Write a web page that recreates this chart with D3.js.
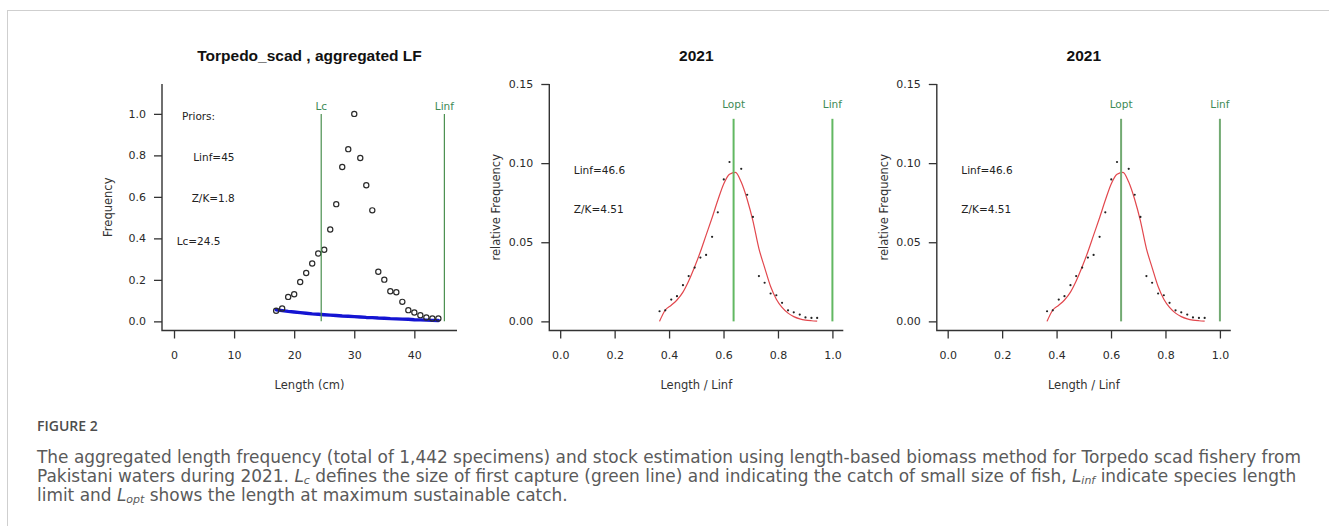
<!DOCTYPE html>
<html>
<head>
<meta charset="utf-8">
<script src="https://cdn.jsdelivr.net/npm/d3@7"></script>
<style>
  html, body { margin: 0; padding: 0; background: #fff; }
  svg { display: block; }
</style>
</head>
<body>
<svg id="fig" width="1329" height="526"></svg>
<script>
// ---- Data ---------------------------------------------------------------
// Length classes (cm) of the aggregated sample
const lengthCm = [17,18,19,20,21,22,23,24,25,26,27,28,29,30,31,32,33,34,35,36,37,38,39,40,41,42,43,44];
// Frequency scaled to the modal class
const freqScaled = [0.051,0.062,0.118,0.131,0.190,0.233,0.279,0.327,0.345,0.443,0.565,0.744,0.830,1.000,
                    0.787,0.656,0.535,0.239,0.201,0.145,0.140,0.094,0.054,0.043,0.030,0.019,0.014,0.014];
// Blue reference curve under the catch
const blueCurve = [0.056,0.052,0.048,0.045,0.042,0.039,0.036,0.034,0.032,0.030,0.028,0.026,0.025,0.023,
                   0.021,0.019,0.018,0.016,0.015,0.013,0.012,0.011,0.010,0.008,0.007,0.006,0.005,0.004];
// Length relative to Linf (46.6 cm)
const relLength = [0.365,0.386,0.408,0.429,0.451,0.472,0.494,0.515,0.536,0.558,0.579,0.601,0.622,0.644,
                   0.665,0.687,0.708,0.730,0.751,0.773,0.794,0.815,0.837,0.858,0.880,0.901,0.923,0.944];
// Observed relative frequency (class at 0.644 sits under the Lopt line)
const relFreq = [0.0064,0.0070,0.0138,0.0159,0.0229,0.0286,0.0340,0.0403,0.0420,0.0534,0.0689,0.0897,0.1007,null,
                 0.0964,0.0800,0.0660,0.0286,0.0244,0.0176,0.0165,0.0117,0.0070,0.0057,0.0043,0.0025,0.0022,0.0022];
// Fitted LBB curve
const fittedFreq = [0.0000,0.0072,0.0102,0.0135,0.0185,0.0255,0.0345,0.0440,0.0545,0.0655,0.0765,0.0870,0.0930,0.0942,
                    0.0880,0.0770,0.0635,0.0460,0.0340,0.0220,0.0140,0.0088,0.0052,0.0030,0.0016,0.0008,0.0004,0.0002];

// Reference points
const LcPrior = 24.5, LinfPrior = 45;
const LoptRel = 0.637, LinfRel = 1.0;

// Ticks
const xTicksLF = [0, 10, 20, 30, 40];
const yTicksLF = [0.0, 0.2, 0.4, 0.6, 0.8, 1.0];
const xTicksRel = [0.0, 0.2, 0.4, 0.6, 0.8, 1.0];
const yTicksRel = [0.00, 0.05, 0.10, 0.15];

// Text
const priorsText = ["Priors:", "Linf=45", "Z/K=1.8", "Lc=24.5"];
const fitText = ["Linf=46.6", "Z/K=4.51"];

// ---- Layout -------------------------------------------------------------
const svg = d3.select("#fig");
const boxTop = 84, boxBottom = 330.5, boxW = 294;
const panelLeft = [162, 549.3, 936.8];
const tickFont = "'DejaVu Sans', sans-serif";
const axisColor = "#333";

// figure frame
svg.append("rect")
  .attr("x", 7.5).attr("y", 10.5).attr("width", 1400).attr("height", 600)
  .attr("fill", "none").attr("stroke", "#cfcfcf").attr("stroke-width", 1);

function drawFrame(g, x, y, xTicks, yTicks, xFmt, yFmt, title, xTitle, yTitle, yTitleX) {
  const x0 = x.range()[0], x1 = x.range()[1];
  // L-shaped box
  g.append("path")
    .attr("d", `M${x0},${boxTop} V${boxBottom} H${x1}`)
    .attr("fill", "none").attr("stroke", axisColor).attr("stroke-width", 1.4);

  const ya = g.append("g").attr("transform", `translate(${x0},0)`)
    .call(d3.axisLeft(y).tickValues(yTicks).tickSize(8).tickPadding(8).tickFormat(yFmt));
  const xa = g.append("g").attr("transform", `translate(0,${boxBottom})`)
    .call(d3.axisBottom(x).tickValues(xTicks).tickSize(8).tickPadding(12.5).tickFormat(xFmt));
  [ya, xa].forEach(a => {
    a.select(".domain").remove();
    a.selectAll("line").attr("stroke", axisColor).attr("stroke-width", 1.3);
    a.selectAll("text").attr("fill", "#2a2a2a").style("font-family", tickFont).style("font-size", "11px");
  });

  const cx = (x0 + x1) / 2;
  g.append("text").attr("x", cx).attr("y", 60.5)
    .attr("text-anchor", "middle").attr("fill", "#111")
    .style("font-family", "'Liberation Sans', Arial, sans-serif")
    .style("font-weight", "bold").style("font-size", "15.5px")
    .text(title);
  g.append("text").attr("x", cx).attr("y", 389)
    .attr("text-anchor", "middle").attr("fill", "#333")
    .style("font-family", tickFont).style("font-size", "11.5px")
    .text(xTitle);
  g.append("text")
    .attr("transform", `translate(${yTitleX},${(boxTop + boxBottom) / 2}) rotate(-90)`)
    .attr("text-anchor", "middle").attr("fill", "#333")
    .style("font-family", tickFont).style("font-size", "11.5px")
    .text(yTitle);
}

function refLine(g, x, y, xv, yTop, label, color, width, labelGap) {
  g.append("line")
    .attr("x1", x(xv)).attr("x2", x(xv)).attr("y1", y(0)).attr("y2", y(yTop))
    .attr("stroke", color).attr("stroke-width", width);
  g.append("text")
    .attr("x", x(xv)).attr("y", y(yTop) - labelGap)
    .attr("text-anchor", "middle").attr("fill", "#3d8a55")
    .style("font-family", tickFont).style("font-size", "10.5px")
    .text(label);
}

function annot(g, x, y, xv, yv, txt) {
  g.append("text")
    .attr("x", x(xv)).attr("y", y(yv)).attr("dy", "0.36em")
    .attr("fill", "#222")
    .style("font-family", tickFont).style("font-size", "10.5px")
    .text(txt);
}

// ---- Panel 1: aggregated length frequency -------------------------------
{
  const g = svg.append("g");
  const x = d3.scaleLinear().domain([-2, 47.1]).range([panelLeft[0], panelLeft[0] + 295]);
  const y = d3.scaleLinear().domain([-0.044, 1.144]).range([boxBottom, boxTop]);
  drawFrame(g, x, y, xTicksLF, yTicksLF, d3.format("d"), d3.format(".1f"),
    "Torpedo_scad , aggregated LF", "Length (cm)", "Frequency", 112);

  annot(g, x, y, 1.33, 0.99, priorsText[0]);
  annot(g, x, y, 3.2, 0.79, priorsText[1]);
  annot(g, x, y, 2.94, 0.593, priorsText[2]);
  annot(g, x, y, 0.44, 0.385, priorsText[3]);

  g.append("path")
    .datum(lengthCm.map((l, i) => [l, blueCurve[i]]))
    .attr("d", d3.line().x(d => x(d[0])).y(d => y(d[1])))
    .attr("fill", "none").attr("stroke", "#1414d2").attr("stroke-width", 3.4)
    .attr("stroke-linejoin", "round").attr("stroke-linecap", "round");

  g.selectAll("circle.lf")
    .data(lengthCm.map((l, i) => [l, freqScaled[i]]))
    .join("circle").attr("class", "lf")
    .attr("cx", d => x(d[0])).attr("cy", d => y(d[1])).attr("r", 2.6)
    .attr("fill", "none").attr("stroke", "#2a2a2a").attr("stroke-width", 1.2);

  refLine(g, x, y, LcPrior, 1.0, "Lc", "#4a8f4f", 1.2, 3.5);
  refLine(g, x, y, LinfPrior, 1.0, "Linf", "#4a8f4f", 1.2, 3.5);
}

// ---- Panels 2 and 3: LBB fit for 2021 ------------------------------------
[1, 2].forEach((p, k) => {
  const g = svg.append("g");
  const x = d3.scaleLinear().domain([-0.04, 1.04]).range([panelLeft[p], panelLeft[p] + boxW]);
  const y = d3.scaleLinear().domain([-0.00577, 0.15]).range([boxBottom, boxTop]);
  drawFrame(g, x, y, xTicksRel, yTicksRel, d3.format(".1f"), d3.format(".2f"),
    "2021", "Length / Linf", "relative Frequency", panelLeft[p] - 49);

  annot(g, x, y, 0.05, 0.0952, fitText[0]);
  annot(g, x, y, 0.05, 0.0707, fitText[1]);

  g.append("path")
    .datum(relLength.map((l, i) => [l, fittedFreq[i]]))
    .attr("d", d3.line().curve(d3.curveMonotoneX).x(d => x(d[0])).y(d => y(d[1])))
    .attr("fill", "none").attr("stroke", "#e2474d").attr("stroke-width", 1.2);

  g.selectAll("circle.obs")
    .data(relLength.map((l, i) => [l, relFreq[i]]).filter(d => d[1] != null))
    .join("circle").attr("class", "obs")
    .attr("cx", d => x(d[0])).attr("cy", d => y(d[1])).attr("r", 1.1)
    .attr("fill", "#222");

  const green = k === 0 ? "#62b862" : "#72aa72";
  refLine(g, x, y, LoptRel, 0.128, "Lopt", green, 2, 11);
  refLine(g, x, y, LinfRel, 0.128, "Linf", green, 2, 11);
});

// ---- Caption -------------------------------------------------------------
svg.append("text").attr("x", 37).attr("y", 431)
  .attr("fill", "#4d4d4d")
  .style("font-family", "'Open Sans', 'Noto Sans', sans-serif")
  .style("font-size", "14px").style("font-weight", 600)
  .text("FIGURE 2");

const capLines = [
  [["The aggregated length frequency (total of 1,442 specimens) and stock estimation using length-based biomass method for Torpedo scad fishery from"]],
  [["Pakistani waters during 2021. "], ["L", "i"], ["c", "s"],
   [" defines the size of first capture (green line) and indicating the catch of small size of fish, "],
   ["L", "i"], ["inf", "s"], [" indicate species length"]],
  [["limit and "], ["L", "i"], ["opt", "s"], [" shows the length at maximum sustainable catch."]]
];
const subDrop = 2;
const capG = svg.append("g").attr("fill", "#5a5a5a")
  .style("font-family", "'DejaVu Sans', sans-serif").style("font-size", "15px");
const capNodes = capLines.map((parts, li) => {
  const t = capG.append("text").attr("x", 37).attr("y", 463 + li * 19);
  let afterSub = false;
  parts.forEach(([s, kind]) => {
    const ts = t.append("tspan").text(s);
    if (kind === "i") ts.style("font-style", "italic");
    if (kind === "s") {
      ts.style("font-style", "italic").style("font-size", "0.65em").attr("dy", subDrop);
      afterSub = true;
    } else if (afterSub) {
      ts.attr("dy", -subDrop);
      afterSub = false;
    }
  });
  return t;
});
// size the caption so the first line fills the caption column
const w0 = capNodes[0].node().getComputedTextLength();
capG.style("font-size", (15 * 1265 / w0).toFixed(2) + "px");
</script>
</body>
</html>
